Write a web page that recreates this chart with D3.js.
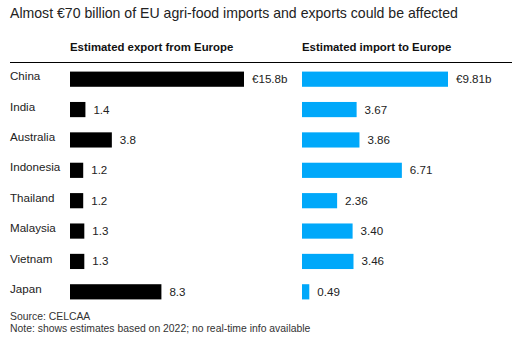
<!DOCTYPE html>
<html>
<head>
<meta charset="utf-8">
<script src="https://cdn.jsdelivr.net/npm/d3@7"></script>
<style>
  body { margin: 0; background: #fff; }
  text { font-family: "Liberation Sans", Arial, sans-serif; }
</style>
</head>
<body>
<div id="chart"></div>
<script>
const countries = ["China", "India", "Australia", "Indonesia", "Thailand", "Malaysia", "Vietnam", "Japan"];
const exportValues = [15.8, 1.4, 3.8, 1.2, 1.2, 1.3, 1.3, 8.3];
const exportLabels = ["€15.8b", "1.4", "3.8", "1.2", "1.2", "1.3", "1.3", "8.3"];
const importValues = [9.81, 3.67, 3.86, 6.71, 2.36, 3.40, 3.46, 0.49];
const importLabels = ["€9.81b", "3.67", "3.86", "6.71", "2.36", "3.40", "3.46", "0.49"];

(function() {
    const width = 512;
    const height = 342;

    const svg = d3.select("#chart")
        .append("svg")
        .attr("width", width)
        .attr("height", height);

    // title
    svg.append("text")
        .attr("x", 10)
        .attr("y", 18)
        .style("font-size", "14.1px")
        .style("fill", "#222")
        .text("Almost €70 billion of EU agri-food imports and exports could be affected");

    // column headers
    svg.append("text")
        .attr("x", 70).attr("y", 51)
        .style("font-size", "11.4px").style("font-weight", "bold").style("fill", "#111")
        .text("Estimated export from Europe");
    svg.append("text")
        .attr("x", 302).attr("y", 51)
        .style("font-size", "11.4px").style("font-weight", "bold").style("fill", "#111")
        .text("Estimated import to Europe");

    svg.append("line")
        .attr("x1", 10).attr("x2", 512)
        .attr("y1", 62.5).attr("y2", 62.5)
        .attr("stroke", "#000").attr("stroke-width", 1);

    const y = d3.scaleBand()
        .domain(countries)
        .range([64, 307])
        .paddingInner(0.5)
        .paddingOuter(0.25);

    const xExp = d3.scaleLinear().domain([0, 15.8]).range([70, 244]);
    const xImp = d3.scaleLinear().domain([0, 9.81]).range([302, 448]);

    const rows = svg.append("g")
        .selectAll("g")
        .data(countries)
        .join("g");

    rows.append("text")
        .attr("x", 10)
        .attr("y", d => y(d) + y.bandwidth() / 2)
        .attr("dy", "0.1em")
        .style("font-size", "11.6px")
        .style("fill", "#222")
        .text(d => d);

    rows.append("rect")
        .attr("x", xExp(0))
        .attr("y", d => y(d))
        .attr("height", y.bandwidth())
        .attr("width", (d, i) => xExp(exportValues[i]) - xExp(0))
        .attr("fill", "#000");

    rows.append("text")
        .attr("x", (d, i) => xExp(exportValues[i]) + 8)
        .attr("y", d => y(d) + y.bandwidth() / 2)
        .attr("dy", "0.35em")
        .style("font-size", "11.6px")
        .style("fill", "#222")
        .text((d, i) => exportLabels[i]);

    rows.append("rect")
        .attr("x", xImp(0))
        .attr("y", d => y(d))
        .attr("height", y.bandwidth())
        .attr("width", (d, i) => xImp(importValues[i]) - xImp(0))
        .attr("fill", "#00a8fa");

    rows.append("text")
        .attr("x", (d, i) => xImp(importValues[i]) + 8)
        .attr("y", d => y(d) + y.bandwidth() / 2)
        .attr("dy", "0.35em")
        .style("font-size", "11.6px")
        .style("fill", "#222")
        .text((d, i) => importLabels[i]);

    // footer
    svg.append("text")
        .attr("x", 10).attr("y", 320)
        .style("font-size", "10.4px").style("fill", "#333")
        .text("Source: CELCAA");
    svg.append("text")
        .attr("x", 10).attr("y", 332)
        .style("font-size", "10.4px").style("fill", "#333")
        .text("Note: shows estimates based on 2022; no real-time info available");
})();
</script>
</body>
</html>
